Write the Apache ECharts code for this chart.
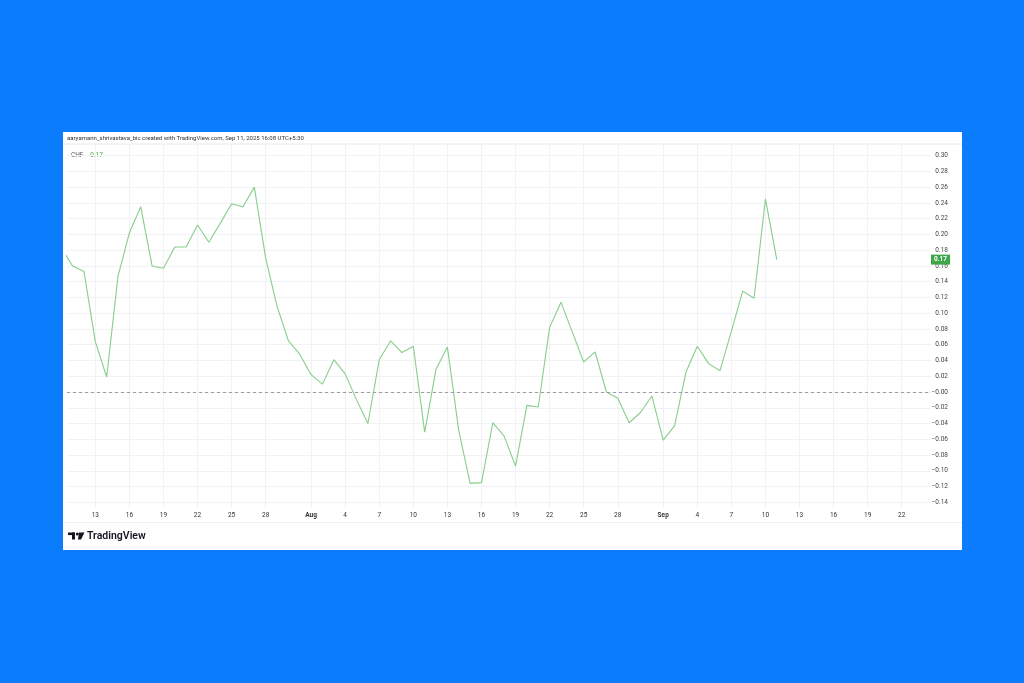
<!DOCTYPE html>
<html>
<head>
<meta charset="utf-8">
<script src="https://cdn.jsdelivr.net/npm/echarts@6/dist/echarts.min.js"></script>
<style>
html,body{margin:0;padding:0;background:#0a7cfd;}
#chart{width:1024px;height:683px;}
</style>
</head>
<body>
<div id="chart"></div>
<script>
// ---- data ----
const dates = [
  '2025-07-10','2025-07-11','2025-07-12','2025-07-13','2025-07-14','2025-07-15','2025-07-16','2025-07-17',
  '2025-07-18','2025-07-19','2025-07-20','2025-07-21','2025-07-22','2025-07-23','2025-07-24','2025-07-25',
  '2025-07-26','2025-07-27','2025-07-28','2025-07-29','2025-07-30','2025-07-31','2025-08-01','2025-08-02',
  '2025-08-03','2025-08-04','2025-08-05','2025-08-06','2025-08-07','2025-08-08','2025-08-09','2025-08-10',
  '2025-08-11','2025-08-12','2025-08-13','2025-08-14','2025-08-15','2025-08-16','2025-08-17','2025-08-18',
  '2025-08-19','2025-08-20','2025-08-21','2025-08-22','2025-08-23','2025-08-24','2025-08-25','2025-08-26',
  '2025-08-27','2025-08-28','2025-08-29','2025-08-30','2025-08-31','2025-09-01','2025-09-02','2025-09-03',
  '2025-09-04','2025-09-05','2025-09-06','2025-09-07','2025-09-08','2025-09-09','2025-09-10','2025-09-11'
];
const chfValues = [
  0.183, 0.160, 0.153, 0.064, 0.019, 0.147, 0.202, 0.235,
  0.160, 0.157, 0.184, 0.184, 0.212, 0.190, 0.214, 0.239,
  0.235, 0.260, 0.170, 0.109, 0.065, 0.048, 0.022, 0.010,
  0.041, 0.023, -0.010, -0.040, 0.041, 0.065, 0.050, 0.058,
  -0.051, 0.029, 0.057, -0.049, -0.116, -0.115, -0.039, -0.056,
  -0.094, -0.017, -0.019, 0.082, 0.114, 0.076, 0.038, 0.051,
  0.000, -0.008, -0.039, -0.026, -0.005, -0.061, -0.043, 0.025,
  0.058, 0.036, 0.027, 0.077, 0.128, 0.119, 0.245, 0.168
];
const xTickDates = [
  '2025-07-13','2025-07-16','2025-07-19','2025-07-22','2025-07-25','2025-07-28','2025-08-01','2025-08-04',
  '2025-08-07','2025-08-10','2025-08-13','2025-08-16','2025-08-19','2025-08-22','2025-08-25','2025-08-28',
  '2025-09-01','2025-09-04','2025-09-07','2025-09-10','2025-09-13','2025-09-16','2025-09-19','2025-09-22'
];
const xTickLabels = [
  '13','16','19','22','25','28','Aug','4','7','10','13','16','19','22','25','28','Sep','4','7','10','13','16','19','22'
];
const yTickValues = [0.30,0.28,0.26,0.24,0.22,0.20,0.18,0.16,0.14,0.12,0.10,0.08,0.06,0.04,0.02,0.00,
  -0.02,-0.04,-0.06,-0.08,-0.10,-0.12,-0.14];
const yTickLabels = ['0.30','0.28','0.26','0.24','0.22','0.20','0.18','0.16','0.14','0.12','0.10','0.08','0.06','0.04','0.02','\u22120.00',
  '\u22120.02','\u22120.04','\u22120.06','\u22120.08','\u22120.10','\u22120.12','\u22120.14'];
const seriesName = 'CHF';
const lastLabel = '0.17';
const headerText = 'aaryamann_shrivastava_bic created with TradingView.com, Sep 11, 2025 16:08 UTC+5:30';

// day number: Jul 1 = 1, Aug 1 = 32, Sep 1 = 63
function dayNum(s) {
  const p = s.split('-').map(Number);
  return (Date.UTC(p[0], p[1]-1, p[2]) - Date.UTC(2025, 5, 30)) / 864e5;
}
const seriesData = dates.map((d, i) => [dayNum(d), chfValues[i]]);
const xTickVals = xTickDates.map(dayNum);
const monthLabels = {'Aug':1,'Sep':1};

const FONT = 'Roboto, "Noto Sans", sans-serif';
const GRIDC = '#f0f2f5';

const chart = echarts.init(document.getElementById('chart'), null, {renderer: 'canvas'});
chart.setOption({
  animation: false,
  backgroundColor: '#0a7cfd',
  textStyle: {fontFamily: FONT},
  graphic: [
    {type: 'rect', z: -10, shape: {x: 63, y: 132, width: 899, height: 418}, style: {fill: '#ffffff'}},
    {type: 'line', z: -9, shape: {x1: 63, y1: 144, x2: 962, y2: 144}, style: {stroke: '#e6e8ee', lineWidth: 1}},
    {type: 'line', z: -9, shape: {x1: 63, y1: 522.5, x2: 962, y2: 522.5}, style: {stroke: '#eef0f3', lineWidth: 1}},
    {type: 'text', left: 67, top: 135.5, style: {text: headerText, fontSize: 6, fill: '#333', fontFamily: FONT}},
    {type: 'text', left: 71, top: 149, style: {
      text: '{a|' + seriesName + '}  {b|' + lastLabel + '}',
      rich: {
        a: {fontSize: 6.5, fill: '#555', fontFamily: FONT},
        b: {fontSize: 6.5, fill: '#4caf50', fontFamily: FONT}
      }
    }},
    // TradingView logo mark
    {type: 'rect', shape: {x: 68, y: 532.5, width: 7, height: 2.6}, style: {fill: '#131722'}},
    {type: 'rect', shape: {x: 72, y: 532.5, width: 3, height: 7}, style: {fill: '#131722'}},
    {type: 'circle', shape: {cx: 77.3, cy: 534, r: 1.5}, style: {fill: '#131722'}},
    {type: 'polygon', shape: {points: [[79, 532.5], [84.5, 532.5], [81, 539.5], [78, 539.5]]}, style: {fill: '#131722'}},
    {type: 'text', left: 87, top: 531, style: {text: 'TradingView', fontSize: 10.5, fontWeight: 600, fill: '#131722', fontFamily: FONT}},
    // last-value price tag on the right scale
    {type: 'text', id: 'priceTag', x: 931, y: 258, z: 20, style: {
      text: lastLabel, fontSize: 6.5, fontWeight: 'bold', fill: '#fff', fontFamily: FONT,
      backgroundColor: '#3fa64b', padding: [1.5, 3], verticalAlign: 'middle', align: 'left'
    }}
  ],
  grid: {left: 67, right: 93, top: 145, bottom: 175, containLabel: false, outerBoundsMode: 'none'},
  xAxis: {
    type: 'value',
    min: 10.508, max: 86.578,
    axisLine: {show: false},
    axisTick: {show: false, customValues: xTickVals},
    splitLine: {show: true, lineStyle: {color: GRIDC, width: 1}},
    axisLabel: {
      customValues: xTickVals,
      margin: 3.5,
      fontSize: 6.5,
      color: '#333',
      fontFamily: FONT,
      formatter: function (v) {
        const i = xTickVals.findIndex(t => Math.abs(t - v) < 1e-6);
        if (i < 0) return '';
        const s = xTickLabels[i];
        return monthLabels[s] ? '{m|' + s + '}' : s;
      },
      rich: {m: {fontSize: 6.5, fontWeight: 'bold', color: '#333', fontFamily: FONT}}
    }
  },
  yAxis: {
    type: 'value',
    position: 'right',
    min: -0.14721, max: 0.31345,
    axisLine: {show: false},
    axisTick: {show: false, customValues: yTickValues},
    splitLine: {show: true, lineStyle: {color: GRIDC, width: 1}},
    axisLabel: {
      customValues: yTickValues,
      margin: 17,
      align: 'right',
      fontSize: 6.5,
      color: '#444',
      fontFamily: FONT,
      formatter: function (v) {
        const i = yTickValues.findIndex(t => Math.abs(t - v) < 1e-9);
        return i < 0 ? '' : yTickLabels[i];
      }
    }
  },
  series: [{
    name: seriesName,
    type: 'line',
    data: seriesData,
    showSymbol: false,
    symbol: 'none',
    smooth: false,
    clip: true,
    lineStyle: {color: '#88cd8a', width: 1.1},
    markLine: {
      silent: true,
      symbol: 'none',
      data: [
        {yAxis: 0, label: {show: false}, lineStyle: {color: '#9a9da6', type: [3, 3], width: 1}}
      ]
    }
  }]
});
// place the price tag at the last value through the y scale
const lastY = chart.convertToPixel({yAxisIndex: 0}, chfValues[chfValues.length - 1]);
chart.setOption({graphic: [{id: 'priceTag', y: lastY}]});
</script>
</body>
</html>
